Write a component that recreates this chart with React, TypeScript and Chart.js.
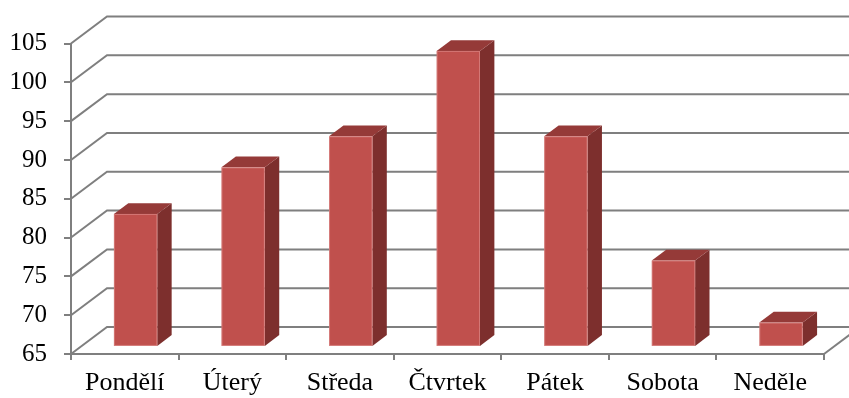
import React, { useEffect, useRef } from "react";
import { Chart, registerables } from "chart.js";

Chart.register(...registerables);

// Weekly values per day
const days = ["Pondělí", "Úterý", "Středa", "Čtvrtek", "Pátek", "Sobota", "Neděle"];
const values = [82, 88, 92, 103, 92, 76, 68];
const yMin = 65;
const yMax = 105;
const yStep = 5;

// 3D look: full depth of the floor and where the bars sit inside it
const WALL_DX = 36;
const WALL_DY = 27;
const BAR_FRONT = 0.3;
const BAR_DEPTH = 0.4;
const BAR_RATIO = 0.403;

const GRID = "#7f7f7f";
const FACE = "#C0504D";
const SIDE = "#7D2F2D";
const TOP = "#953A38";
const FONT = '"Liberation Serif", "Times New Roman", serif';

const wallPlugin = {
  id: "wall3d",
  beforeDatasetsDraw(chart: any) {
    const { ctx, scales, chartArea } = chart;
    const y = scales.y;
    ctx.save();
    ctx.strokeStyle = GRID;
    ctx.lineWidth = 2;
    ctx.lineJoin = "miter";
    for (const t of y.ticks) {
      const py = y.getPixelForValue(t.value);
      ctx.beginPath();
      ctx.moveTo(chartArea.left, py);
      ctx.lineTo(chartArea.left + WALL_DX, py - WALL_DY);
      ctx.lineTo(chart.width + 20, py - WALL_DY);
      ctx.stroke();
    }
    // right edge of the floor
    ctx.beginPath();
    ctx.moveTo(chartArea.right, chartArea.bottom);
    ctx.lineTo(chartArea.right + WALL_DX, chartArea.bottom - WALL_DY);
    ctx.stroke();
    ctx.restore();
  },
  afterDatasetsDraw(chart: any) {
    const { ctx, scales } = chart;
    const x = scales.x;
    const y = scales.y;
    const data = chart.data.datasets[0].data as number[];
    const catW = (x.right - x.left) / chart.data.labels.length;
    const w = catW * BAR_RATIO;
    const ox = WALL_DX * BAR_FRONT;
    const oy = WALL_DY * BAR_FRONT;
    const ddx = WALL_DX * BAR_DEPTH;
    const ddy = WALL_DY * BAR_DEPTH;
    ctx.save();
    data.forEach((v, i) => {
      const cx = x.getPixelForValue(i) + ox;
      const top = y.getPixelForValue(v) - oy;
      const base = y.getPixelForValue(yMin) - oy;
      const l = cx - w / 2;
      const r = cx + w / 2;
      // side face
      ctx.fillStyle = SIDE;
      ctx.beginPath();
      ctx.moveTo(r, top);
      ctx.lineTo(r + ddx, top - ddy);
      ctx.lineTo(r + ddx, base - ddy);
      ctx.lineTo(r, base);
      ctx.closePath();
      ctx.fill();
      // top face
      ctx.fillStyle = TOP;
      ctx.beginPath();
      ctx.moveTo(l, top);
      ctx.lineTo(l + ddx, top - ddy);
      ctx.lineTo(r + ddx, top - ddy);
      ctx.lineTo(r, top);
      ctx.closePath();
      ctx.fill();
      // front face
      ctx.fillStyle = FACE;
      ctx.fillRect(l, top, w, base - top);
      ctx.strokeStyle = "rgba(255,210,210,0.3)";
      ctx.lineWidth = 1;
      ctx.strokeRect(l + 0.5, top + 0.5, w - 1, base - top - 1);
    });
    ctx.restore();
  },
};

export default function App() {
  const ref = useRef<HTMLCanvasElement | null>(null);

  useEffect(() => {
    document.body.style.margin = "0";
    const canvas = ref.current!;
    const chart = new Chart(canvas, {
      type: "bar",
      data: {
        labels: days,
        datasets: [
          {
            data: values,
            backgroundColor: "rgba(0,0,0,0)",
            borderWidth: 0,
          },
        ],
      },
      options: {
        animation: false,
        responsive: false,
        events: [],
        layout: { padding: { top: 43.5, left: 11, right: 25, bottom: 0 } },
        plugins: { legend: { display: false }, tooltip: { enabled: false } },
        scales: {
          x: {
            afterFit: (s: any) => {
              s.height = 44;
            },
            grid: {
              drawOnChartArea: false,
              drawTicks: true,
              tickLength: 6,
              color: GRID,
              lineWidth: 2,
            },
            border: { display: true, color: GRID, width: 2 },
            ticks: {
              autoSkip: false,
              maxRotation: 0,
              padding: 8,
              color: "#000",
              font: { family: FONT, size: 26 },
            },
          },
          y: {
            min: yMin,
            max: yMax,
            afterFit: (s: any) => {
              s.width = 60;
            },
            grid: {
              drawOnChartArea: false,
              drawTicks: true,
              tickLength: 7,
              color: GRID,
              lineWidth: 2,
            },
            border: { display: true, color: GRID, width: 2 },
            ticks: {
              stepSize: yStep,
              padding: 17,
              color: "#000",
              font: { family: FONT, size: 25 },
            },
          },
        },
      },
      plugins: [wallPlugin],
    });
    return () => chart.destroy();
  }, []);

  return (
    <div style={{ position: "fixed", left: 0, top: 0, width: 849, height: 398, background: "#fff" }}>
      <canvas ref={ref} width={849} height={398} style={{ display: "block" }} />
    </div>
  );
}
